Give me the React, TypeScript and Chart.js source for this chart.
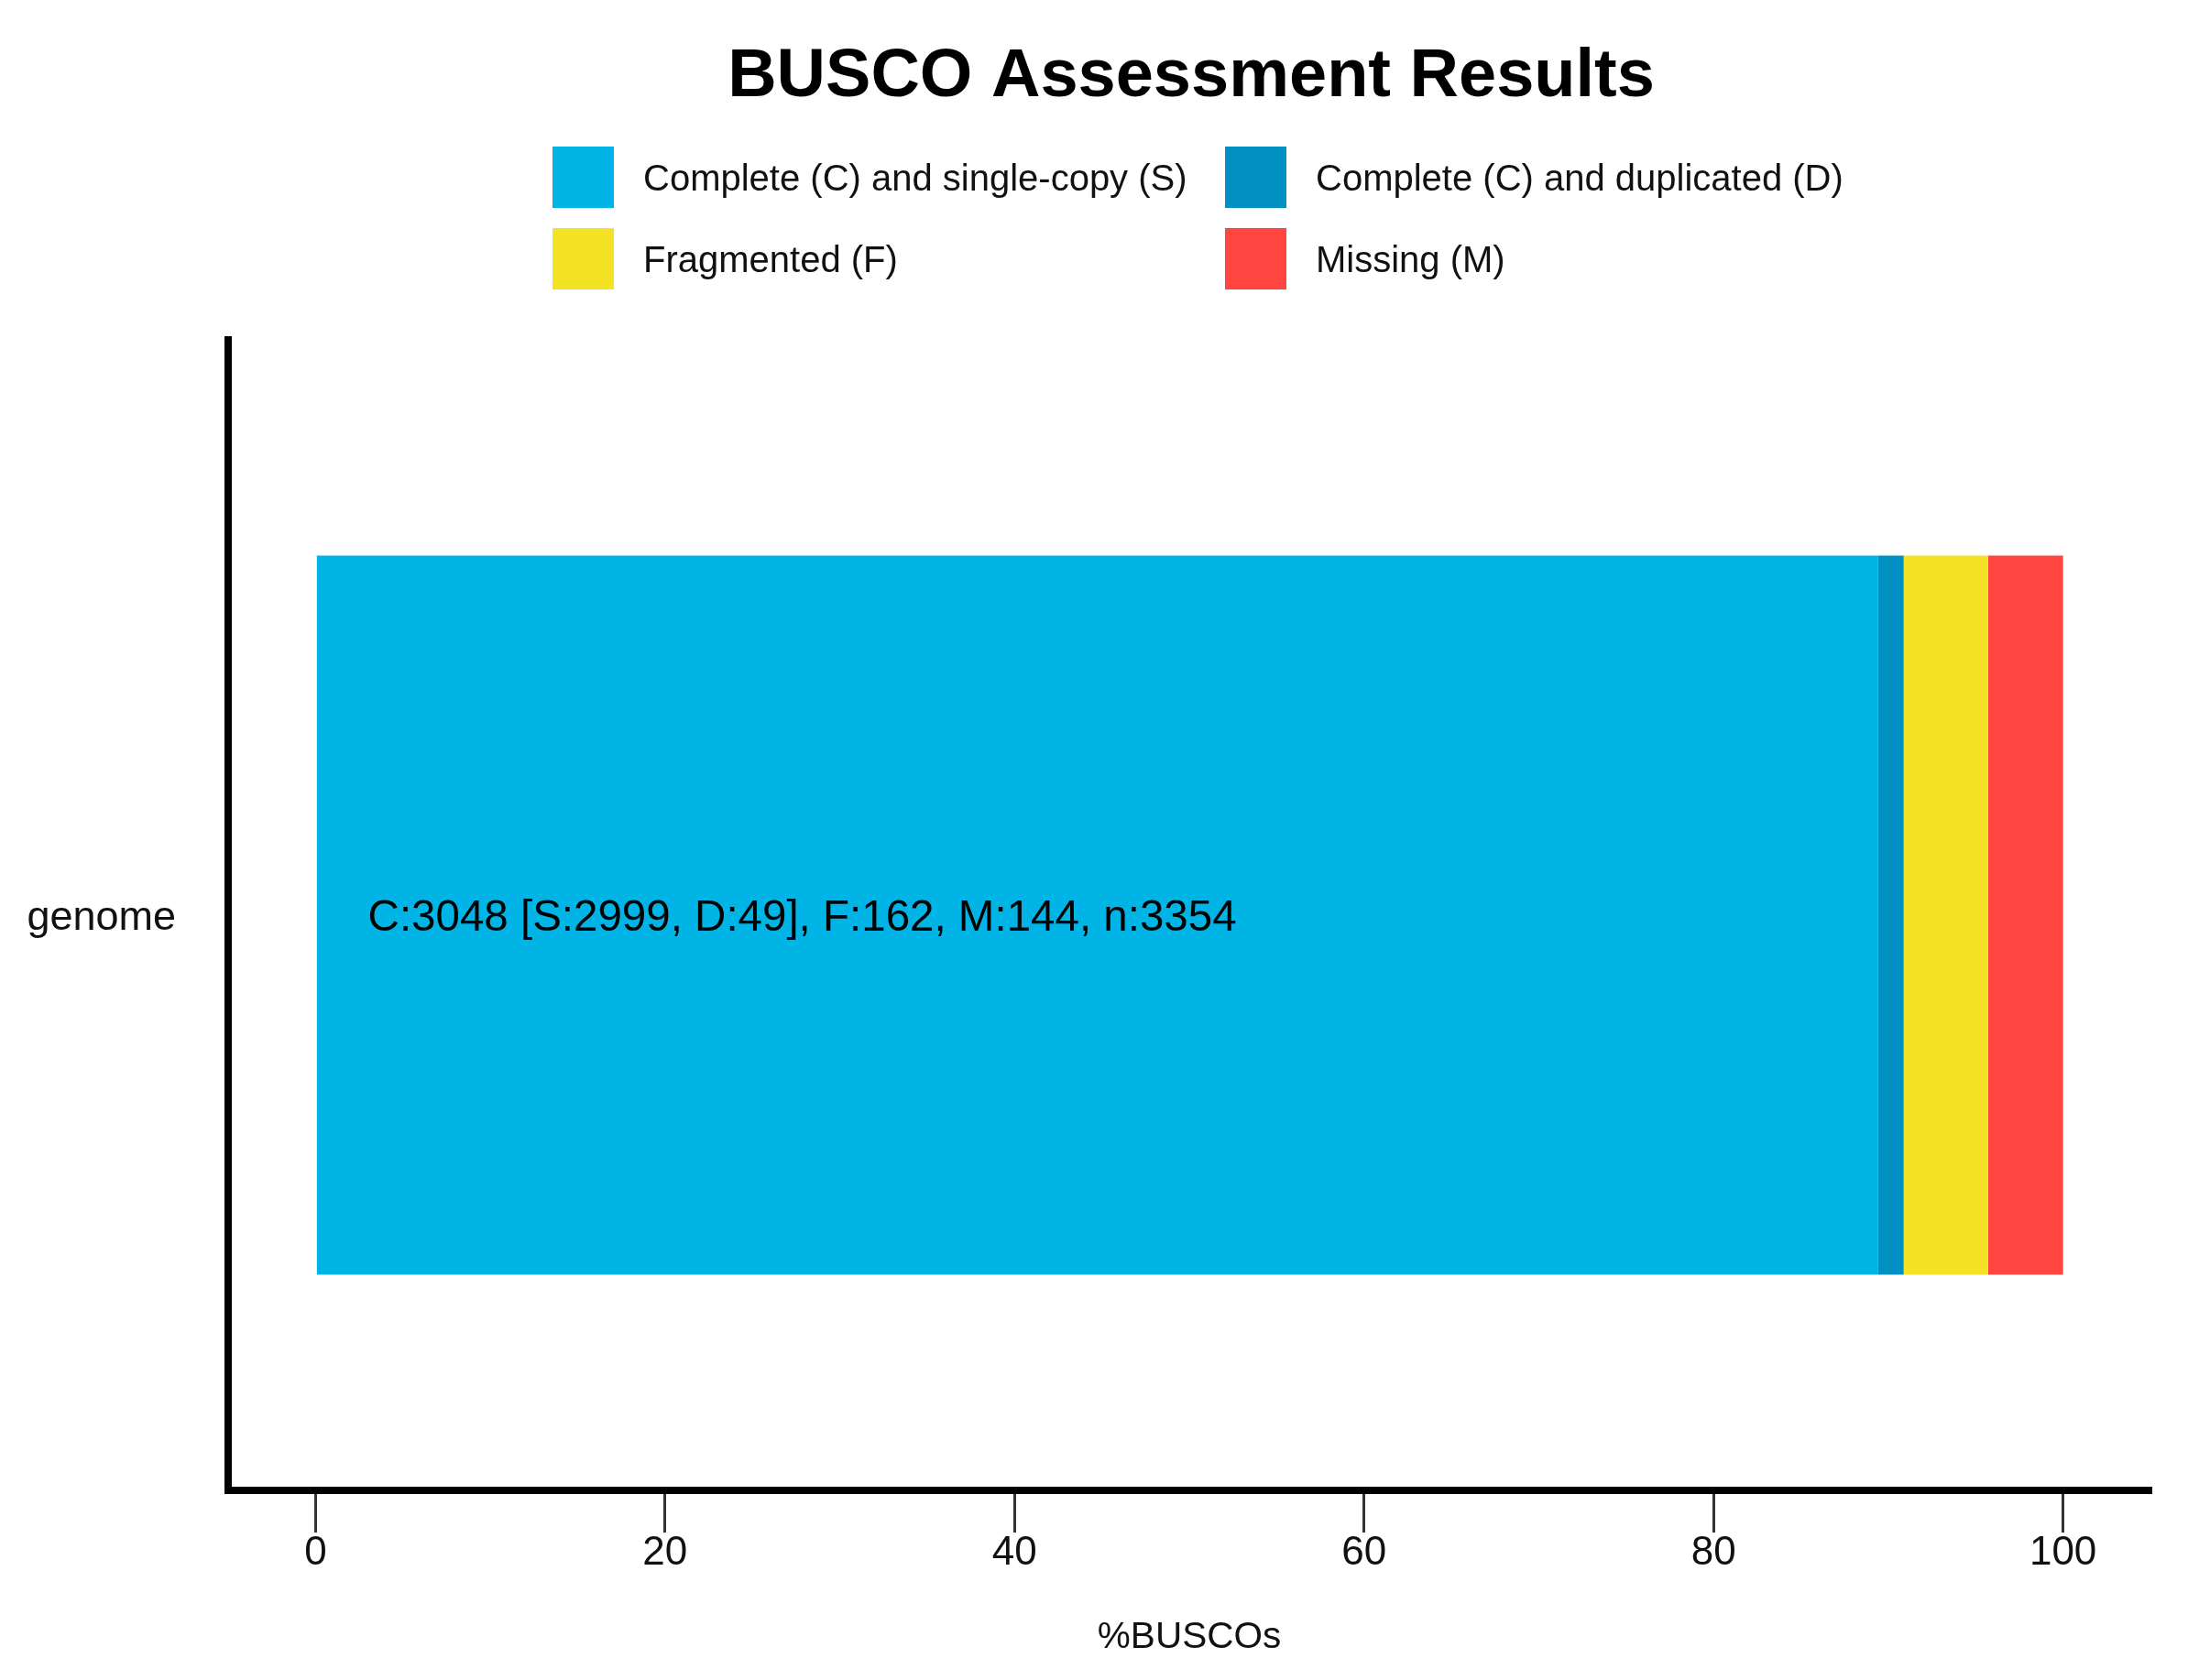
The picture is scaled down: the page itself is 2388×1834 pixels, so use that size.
import { useEffect, useRef } from "react";
import { Chart, registerables } from "chart.js";

Chart.register(...registerables);

const FONT = '"Liberation Sans", Arial, Helvetica, sans-serif';

const chartTitle = "BUSCO Assessment Results";
const categories = ["genome"];

const seriesNames = [
  "Complete (C) and single-copy (S)",
  "Complete (C) and duplicated (D)",
  "Fragmented (F)",
  "Missing (M)",
];
const seriesColors = ["#00B4E5", "#0090C2", "#F3E324", "#FF4540"];

// percent of BUSCOs per category
const singleCopyPct = [89.42];
const duplicatedPct = [1.46];
const fragmentedPct = [4.83];
const missingPct = [4.29];

// raw counts used for the in-bar summary
const singleCopyCount = [2999];
const duplicatedCount = [49];
const fragmentedCount = [162];
const missingCount = [144];
const totalCount = [3354];

const xTicks = [0, 20, 40, 60, 80, 100];

const summaryFor = (i: number) =>
  `C:${singleCopyCount[i] + duplicatedCount[i]} [S:${singleCopyCount[i]}, D:${duplicatedCount[i]}], ` +
  `F:${fragmentedCount[i]}, M:${missingCount[i]}, n:${totalCount[i]}`;

const headerPlugin = {
  id: "buscoHeader",
  afterDraw(chart: Chart) {
    const ctx = chart.ctx;
    ctx.save();
    ctx.fillStyle = "#000";
    ctx.textAlign = "center";
    ctx.textBaseline = "alphabetic";
    ctx.font = `bold 74px ${FONT}`;
    ctx.fillText(chartTitle, 1300, 105);

    // 2x2 legend grid
    const colX = [603, 1337];
    const rowY = [160, 249];
    const box = 67;
    ctx.font = `40px ${FONT}`;
    ctx.textAlign = "left";
    seriesNames.forEach((name, i) => {
      const x = colX[i % 2];
      const y = rowY[Math.floor(i / 2)];
      ctx.fillStyle = seriesColors[i];
      ctx.fillRect(x, y, box, box);
      ctx.fillStyle = "#111";
      ctx.fillText(name, x + 99, y + box / 2 + 14);
    });
    ctx.restore();
  },
};

const barLabelPlugin = {
  id: "barLabel",
  afterDatasetsDraw(chart: Chart) {
    const ctx = chart.ctx;
    const xs = chart.scales.x;
    const ys = chart.scales.y;
    ctx.save();
    ctx.fillStyle = "#000";
    ctx.font = `47.5px ${FONT}`;
    ctx.textAlign = "left";
    ctx.textBaseline = "middle";
    categories.forEach((_, i) => {
      ctx.fillText(summaryFor(i), xs.getPixelForValue(3), ys.getPixelForValue(i) + 4);
    });
    ctx.restore();
  },
};

export default function App() {
  const canvasRef = useRef<HTMLCanvasElement | null>(null);

  useEffect(() => {
    if (!canvasRef.current) return;
    const values = [singleCopyPct, duplicatedPct, fragmentedPct, missingPct];

    const chart = new Chart(canvasRef.current, {
      type: "bar",
      data: {
        labels: categories,
        datasets: seriesNames.map((name, i) => ({
          label: name,
          data: values[i],
          backgroundColor: seriesColors[i],
          borderWidth: 0,
          barPercentage: 0.625,
          categoryPercentage: 1,
        })),
      },
      options: {
        indexAxis: "y",
        animation: false,
        responsive: true,
        maintainAspectRatio: false,
        devicePixelRatio: 1,
        layout: { padding: { top: 371, right: 41, bottom: 0, left: 0 } },
        plugins: {
          legend: { display: false },
          title: { display: false },
          tooltip: { enabled: false },
        },
        scales: {
          x: {
            type: "linear",
            stacked: true,
            min: -5,
            max: 105,
            afterBuildTicks: (scale: any) => {
              scale.ticks = xTicks.map((v) => ({ value: v }));
            },
            afterFit: (scale: any) => {
              scale.height = 207;
            },
            grid: {
              drawOnChartArea: false,
              drawTicks: true,
              tickLength: 46,
              lineWidth: 3,
              color: "#333",
            },
            border: { display: true, width: 8, color: "#000" },
            ticks: {
              color: "#111",
              padding: 1,
              font: { family: FONT, size: 44, lineHeight: 1 },
              maxRotation: 0,
            },
            title: {
              display: true,
              text: "%BUSCOs",
              color: "#111",
              font: { family: FONT, size: 40.5 },
              padding: { top: 0, bottom: 22 },
            },
          },
          y: {
            type: "category",
            stacked: true,
            afterFit: (scale: any) => {
              scale.width = 249;
            },
            grid: { display: true, drawOnChartArea: false, drawTicks: false },
            border: { display: true, width: 8, color: "#000" },
            ticks: {
              color: "#111",
              padding: 57,
              labelOffset: 4,
              font: { family: FONT, size: 45 },
            },
          },
        },
      },
      plugins: [headerPlugin, barLabelPlugin],
    });

    return () => {
      chart.destroy();
    };
  }, []);

  return (
    <div
      style={{
        position: "fixed",
        left: 0,
        top: 0,
        width: "100vw",
        height: "100vh",
        background: "#fff",
      }}
    >
      <canvas ref={canvasRef}></canvas>
    </div>
  );
}
